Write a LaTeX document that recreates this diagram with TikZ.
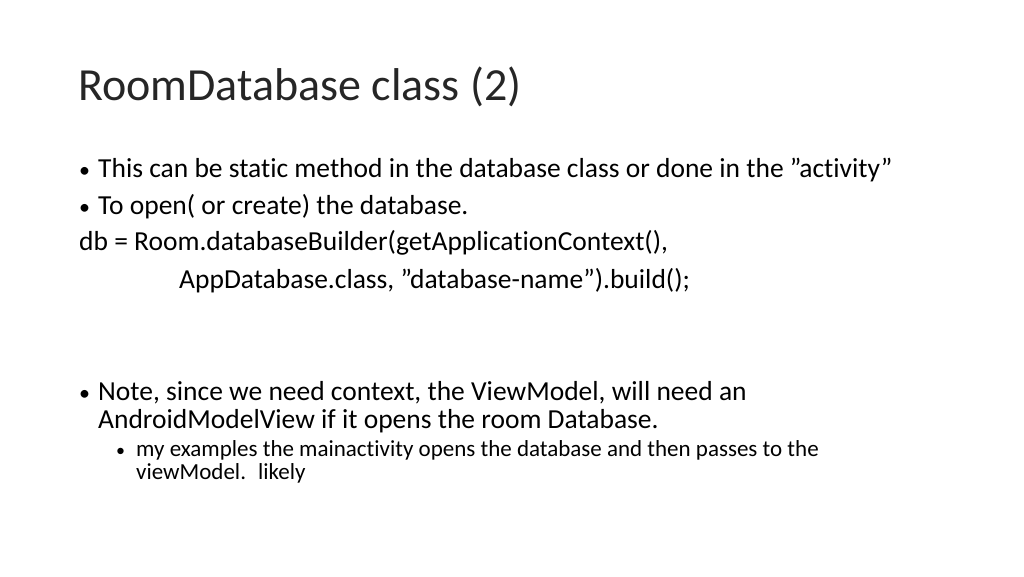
\documentclass[tikz,border=0pt]{standalone}
\usepackage{fontspec}
\setmainfont{Carlito}[Ligatures={NoCommon}]
\usetikzlibrary{positioning}
\newcommand{\dq}{\symbol{34}}
\tikzset{
  txt/.style={anchor=base west, inner sep=0pt, font=\fontsize{27.5}{32}\selectfont},
  small/.style={anchor=base west, inner sep=0pt, font=\fontsize{23}{27}\selectfont},
  bul/.style={anchor=base west, inner sep=0pt}
}
\begin{document}
\begin{tikzpicture}[x=1pt,y=-1pt]
\useasboundingbox (0,0) rectangle (1024,576);

% Title
\node[anchor=base west, inner sep=0pt, font=\fontsize{46}{54}\selectfont, text=black!85] (title) at (78,100) {RoomDatabase class (2)};

% First bullets
\node[bul, font=\fontsize{22}{26}\selectfont] (b1) at (79,177) {\textbullet};
\node[txt] (t1) at (98,177) {This can be static method in the database class or done in the \dq activity\dq};
\node[bul, font=\fontsize{22}{26}\selectfont] (b2) at (79,214) {\textbullet};
\node[txt] (t2) at (98,214) {To open( or create) the database.};
\node[txt] (code1) at (79,250) {db = Room.databaseBuilder(getApplicationContext(),};
\node[txt] (code2) at (179,288) {AppDatabase.class, \dq database-name\dq).build();};

% Note
\node[bul, font=\fontsize{22}{26}\selectfont] (b3) at (79,400) {\textbullet};
\node[txt] (t3) at (98,400) {Note, since we need context, the ViewModel, will need an};
\node[txt] (t3b) at (98,428) {AndroidModelView if it opens the room Database.};
\node[bul, font=\fontsize{18}{22}\selectfont] (b4) at (116,456) {\textbullet};
\node[small] (t4) at (136,456) {my examples the mainactivity opens the database and then passes to the};
\node[small] (t4b) at (136,479) {viewModel.~ likely};
\end{tikzpicture}
\end{document}
